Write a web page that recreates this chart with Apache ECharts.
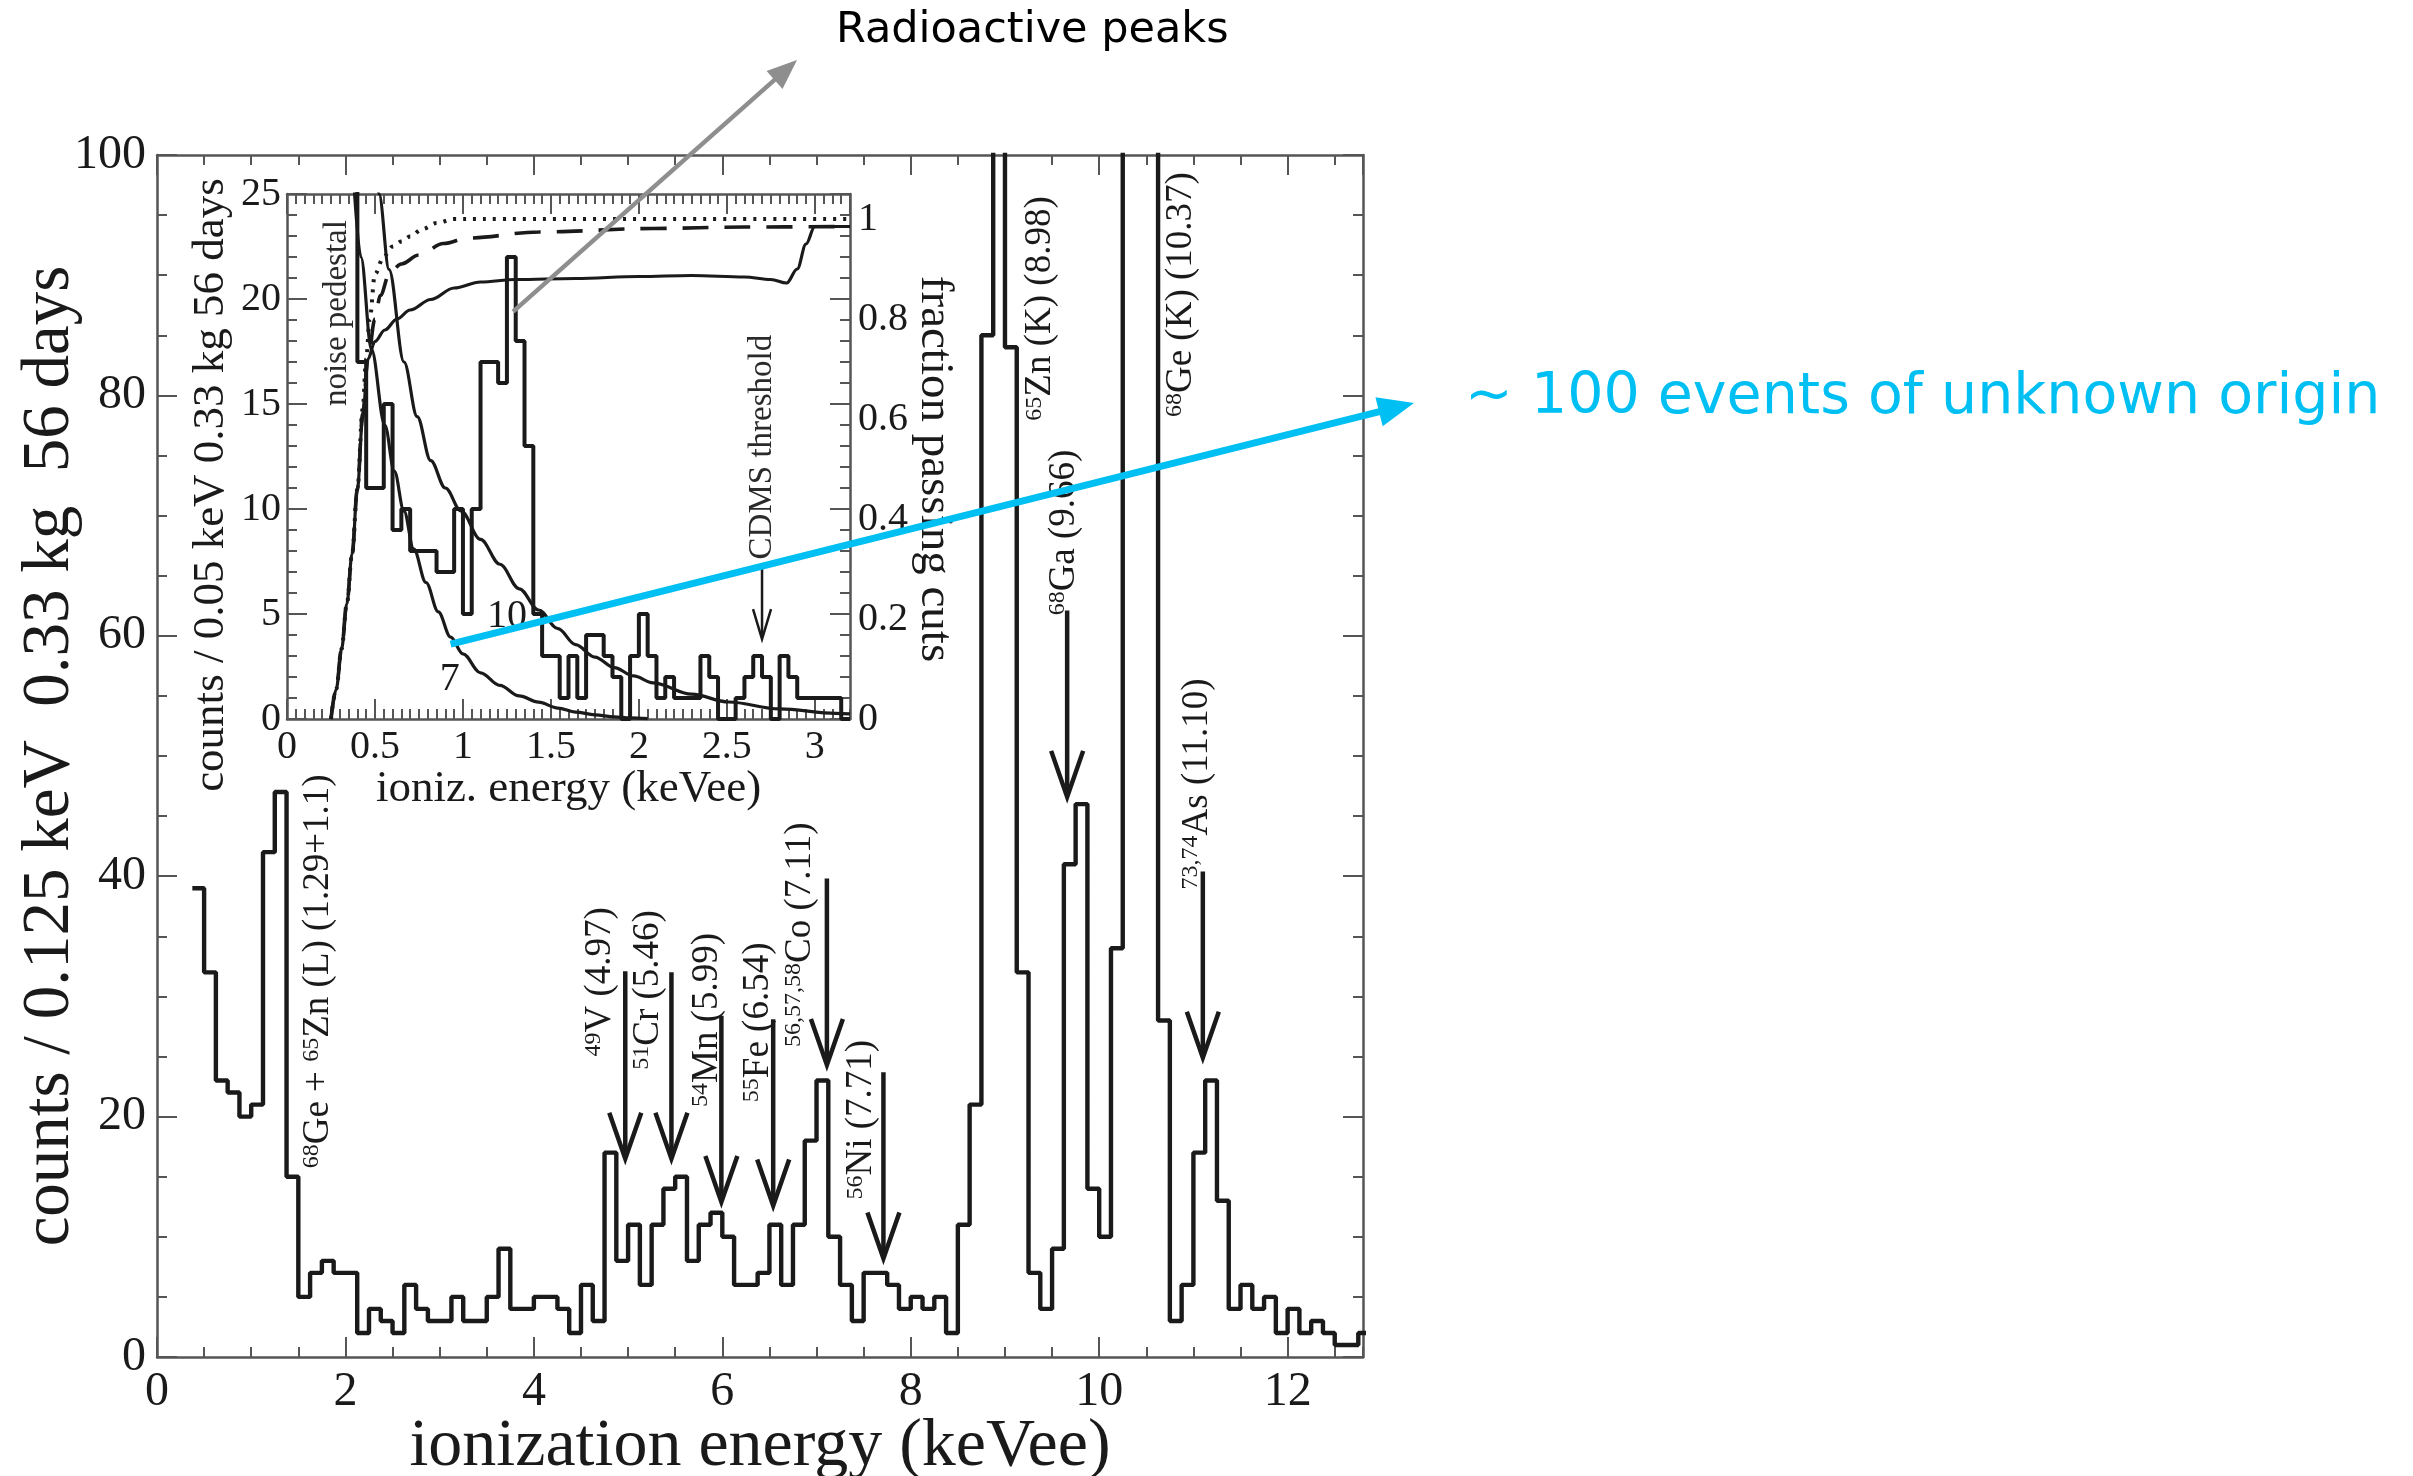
<!DOCTYPE html>
<html>
<head>
<meta charset="utf-8">
<script src="https://cdn.jsdelivr.net/npm/echarts@6/dist/echarts.min.js"></script>
<style>
  html, body { margin: 0; padding: 0; background: #ffffff; }
  #chart { width: 2413px; height: 1476px; }
</style>
</head>
<body>
<div id="chart"></div>
<script>
// ---------- Main spectrum: counts per 0.125 keVee bin ----------
const mainBinStart = 0.375;
const mainBinWidth = 0.125;
const mainCounts = [
  39, 32, 23, 22, 20, 21, 42, 47, 15, 5,
  7, 8, 7, 7, 2, 4, 3, 2, 6, 4,
  3, 3, 5, 3, 3, 5, 9, 4, 4, 5,
  5, 4, 2, 6, 3, 17, 8, 11, 6, 11,
  14, 15, 8, 11, 12, 10, 6, 6, 7, 11,
  6, 11, 18, 23, 10, 6, 3, 7, 7, 6,
  4, 5, 4, 5, 2, 11, 21, 85, 130, 84,
  32, 7, 4, 9, 41, 46, 14, 10, 34, 150,
  300, 170, 28, 3, 6, 17, 23, 13, 4, 6,
  4, 5, 2, 4, 2, 3, 2, 1, 1, 2
];

// Main x / y tick settings
const mainXMax = 12.8;
const mainXStep = 2;
const mainXMinorStep = 0.5;
const mainYMax = 100;
const mainYStep = 20;

// Line identifications (rotated labels): energy position, baseline count, text
const peakLabelE    = [1.71, 4.70, 5.21, 5.84, 6.38, 6.83, 7.48, 9.63, 11.04, 9.38, 10.87];
const peakLabelBase = [15.7, 25.0, 23.9, 20.8, 21.2, 25.8, 13.1, 61.7, 38.9, 77.9, 78.2];
const peakLabelText = [
  '{s|68}{n|Ge + }{s|65}{n|Zn (L) (1.29+1.1)}',
  '{s|49}{n|V (4.97)}',
  '{s|51}{n|Cr (5.46)}',
  '{s|54}{n|Mn (5.99)}',
  '{s|55}{n|Fe (6.54)}',
  '{s|56,57,58}{n|Co (7.11)}',
  '{s|56}{n|Ni (7.71)}',
  '{s|68}{n|Ga (9.66)}',
  '{s|73,74}{n|As (11.10)}',
  '{s|65}{n|Zn (K) (8.98)}',
  '{s|68}{n|Ge (K) (10.37)}'
];

// Arrows marking line energies: energy, arrow tail count, arrow tip count
const arrowE    = [4.97, 5.46, 5.99, 6.54, 7.11, 7.71, 9.66, 11.10];
const arrowFrom = [32.1, 32.0, 28.4, 28.1, 39.8, 23.7, 62.1, 40.4];
const arrowTo   = [16.5, 16.5, 12.9, 12.6, 24.3, 8.2, 46.6, 24.9];

// ---------- Inset: low-energy spectrum, counts per 0.05 keVee bin ----------
const insetBinStart = 0.35;
const insetBinWidth = 0.05;
const insetCounts = [
  40, 17, 11, 11, 15, 9, 10, 8, 8, 8,
  7, 7, 10, 5, 10, 17, 17, 16, 22, 18,
  13, 5, 3, 3, 1, 3, 1, 4, 4, 3,
  2, 0, 3, 5, 3, 1, 2, 1, 1, 1,
  3, 2, 0, 0, 1, 2, 3, 2, 0, 3,
  2, 1, 1, 1, 1, 1, 0
];
const insetXMax = 3.2;
const insetYMax = 25;
const fracMax = 1.05;

// Fraction of events passing cuts (right axis)
const effSolidE = [0.25, 0.28, 0.31, 0.34, 0.37, 0.40, 0.43, 0.46, 0.50, 0.556, 0.625, 0.70, 0.817, 0.95, 1.1, 1.3, 1.64, 2.0, 2.3, 2.6, 2.75, 2.84, 2.9, 2.95, 3.0, 3.2];
const effSolidF = [0, 0.06, 0.14, 0.23, 0.33, 0.46, 0.60, 0.72, 0.755, 0.778, 0.80, 0.818, 0.839, 0.862, 0.874, 0.879, 0.881, 0.885, 0.887, 0.884, 0.879, 0.872, 0.90, 0.95, 0.985, 0.985];
const effDashE  = [0.25, 0.28, 0.31, 0.34, 0.37, 0.40, 0.43, 0.46, 0.50, 0.53, 0.585, 0.65, 0.75, 0.89, 1.03, 1.43, 2.08, 2.6, 3.2];
const effDashF  = [0, 0.06, 0.14, 0.23, 0.33, 0.46, 0.61, 0.72, 0.80, 0.847, 0.894, 0.91, 0.928, 0.951, 0.962, 0.974, 0.981, 0.984, 0.985];
const effDotE   = [0.25, 0.28, 0.31, 0.34, 0.37, 0.40, 0.43, 0.45, 0.47, 0.50, 0.55, 0.60, 0.65, 0.70, 0.77, 0.85, 0.95, 1.1, 3.2];
const effDotF   = [0, 0.06, 0.14, 0.23, 0.33, 0.46, 0.62, 0.72, 0.80, 0.89, 0.925, 0.945, 0.955, 0.965, 0.98, 0.992, 1.0, 1.0, 1.0];

// Expected spectra for the two WIMP masses (left axis, counts)
const wimp10E = [0.47, 0.523, 0.58, 0.665, 0.74, 0.817, 0.9, 0.99, 1.1, 1.21, 1.32, 1.43, 1.54, 1.64, 1.75, 1.86, 1.97, 2.08, 2.3, 2.51, 2.8, 3.12, 3.2];
const wimp10C = [29, 25, 21.4, 17.0, 14.4, 12.3, 11.0, 9.9, 8.55, 7.37, 6.2, 5.19, 4.3, 3.54, 2.95, 2.45, 2.05, 1.72, 1.18, 0.81, 0.48, 0.27, 0.24];
const wimp7E  = [0.37, 0.42, 0.48, 0.556, 0.61, 0.665, 0.72, 0.79, 0.86, 0.93, 1.0, 1.1, 1.21, 1.32, 1.43, 1.54, 1.64, 1.75, 1.86, 1.95, 2.05];
const wimp7C  = [27, 22, 17.6, 14.0, 11.8, 9.9, 8.1, 6.5, 5.1, 3.9, 3.1, 2.2, 1.6, 1.1, 0.8, 0.52, 0.33, 0.2, 0.1, 0.05, 0.02];

// Inset notes: curve labels and rotated notes
const curveLabelE = [1.25, 0.925];
const curveLabelC = [4.9, 1.9];
const curveLabelText = ['10', '7'];
const noteE = [0.284, 2.70];
const noteBase = [14.9, 7.6];
const noteText = ['noise pedestal', 'CDMS threshold'];
const thresholdE = 2.70;
const thresholdFrom = 7.2;
const thresholdTo = 3.8;

// Axis titles
const mainXTitle = 'ionization energy (keVee)';
const mainYTitle = 'counts / 0.125 keV  0.33 kg  56 days';
const insetXTitle = 'ioniz. energy (keVee)';
const insetYTitle = 'counts / 0.05 keV 0.33 kg 56 days';
const insetFracTitle = 'fraction passing cuts';

// Call-out annotations
const peakPointer = [1.285, 19.4];     // inset coordinates of the 1.3 keV peak
const unknownPointer = [0.93, 3.57];   // inset coordinates on the lower curve
const calloutPeaks = 'Radioactive peaks';
const calloutUnknown = '~ 100 events of unknown origin';

// ---------- Styling ----------
const serif = "'Liberation Serif', 'DejaVu Serif', serif";
const ink = '#1a1a1a';
const frame = '#555555';
const cyan = '#00bff2';

function histPoints(start, width, counts) {
  const pts = counts.map((c, i) => [+(start + i * width).toFixed(4), c]);
  pts.push([+(start + counts.length * width).toFixed(4), counts[counts.length - 1]]);
  return pts;
}
function pairs(xs, ys) { return xs.map((x, i) => [x, ys[i]]); }

function xAxisDef(grid, pos, max, interval, tickLen, extra) {
  return Object.assign({
    gridIndex: grid, type: 'value', position: pos, min: 0, max: max, interval: interval,
    axisLine: { show: false, onZero: false },
    axisTick: { show: true, inside: true, length: tickLen, lineStyle: { color: frame, width: 2 } },
    axisLabel: { show: false },
    splitLine: { show: false },
    minorTick: { show: false },
    minorSplitLine: { show: false }
  }, extra || {});
}
const frameLine = { show: true, onZero: false, lineStyle: { color: frame, width: 2.5 } };

const richMain = {
  s: { fontFamily: serif, fontSize: 24, fill: ink, verticalAlign: 'top' },
  n: { fontFamily: serif, fontSize: 37, fill: ink, verticalAlign: 'bottom' }
};

const chart = echarts.init(document.getElementById('chart'), null, { renderer: 'canvas' });

const option = {
  animation: false,
  backgroundColor: '#ffffff',
  grid: [
    { left: 157, top: 155, width: 1206, height: 1202, outerBoundsMode: 'none', containLabel: false },
    { left: 287, top: 194, width: 563, height: 525, outerBoundsMode: 'none', containLabel: false }
  ],
  xAxis: [
    xAxisDef(0, 'bottom', mainXMax, mainXStep, 20, {
      axisLine: frameLine,
      axisLabel: { show: true, color: ink, fontFamily: serif, fontSize: 48, margin: 11, showMaxLabel: false },
      name: mainXTitle, nameLocation: 'middle', nameGap: 56, nameMoveOverlap: false,
      nameTextStyle: { color: ink, fontFamily: serif, fontSize: 68 }
    }),
    xAxisDef(0, 'bottom', mainXMax, mainXMinorStep, 10),
    xAxisDef(0, 'top', mainXMax, mainXStep, 20, { axisLine: frameLine }),
    xAxisDef(0, 'top', mainXMax, mainXMinorStep, 10),
    xAxisDef(1, 'bottom', insetXMax, 0.5, 20, {
      axisLine: frameLine,
      axisLabel: { show: true, color: ink, fontFamily: serif, fontSize: 40, margin: 8, showMaxLabel: false },
      name: insetXTitle, nameLocation: 'middle', nameGap: 48, nameMoveOverlap: false,
      nameTextStyle: { color: ink, fontFamily: serif, fontSize: 45 }
    }),
    xAxisDef(1, 'bottom', insetXMax, insetBinWidth, 10),
    xAxisDef(1, 'top', insetXMax, 0.5, 20, { axisLine: frameLine }),
    xAxisDef(1, 'top', insetXMax, insetBinWidth, 10)
  ],
  yAxis: [
    {
      gridIndex: 0, type: 'value', position: 'left', min: 0, max: mainYMax, interval: mainYStep,
      axisLine: frameLine,
      axisTick: { show: true, inside: true, length: 20, lineStyle: { color: frame, width: 2 } },
      minorTick: { show: true, splitNumber: 4, length: 10, lineStyle: { color: frame, width: 2 } },
      splitLine: { show: false },
      axisLabel: { show: true, color: ink, fontFamily: serif, fontSize: 48, margin: 11 },
      name: mainYTitle, nameLocation: 'middle', nameGap: 73, nameRotate: 90,
      nameMoveOverlap: false,
      nameTextStyle: { color: ink, fontFamily: serif, fontSize: 67 }
    },
    {
      gridIndex: 0, type: 'value', position: 'right', min: 0, max: mainYMax, interval: mainYStep,
      axisLine: frameLine,
      axisTick: { show: true, inside: true, length: 20, lineStyle: { color: frame, width: 2 } },
      minorTick: { show: true, splitNumber: 4, length: 10, lineStyle: { color: frame, width: 2 } },
      splitLine: { show: false },
      axisLabel: { show: false }
    },
    {
      gridIndex: 1, type: 'value', position: 'left', min: 0, max: insetYMax, interval: 5,
      axisLine: frameLine,
      axisTick: { show: true, inside: true, length: 20, lineStyle: { color: frame, width: 2 } },
      minorTick: { show: true, splitNumber: 5, length: 10, lineStyle: { color: frame, width: 2 } },
      splitLine: { show: false },
      axisLabel: { show: true, color: ink, fontFamily: serif, fontSize: 40, margin: 6 }
    },
    {
      gridIndex: 1, type: 'value', position: 'right', min: 0, max: insetYMax, interval: 5,
      axisLine: frameLine,
      axisTick: { show: true, inside: true, length: 20, lineStyle: { color: frame, width: 2 } },
      minorTick: { show: true, splitNumber: 5, length: 10, lineStyle: { color: frame, width: 2 } },
      splitLine: { show: false },
      axisLabel: { show: false }
    },
    {
      gridIndex: 1, type: 'value', position: 'right', min: 0, max: fracMax, interval: 0.2,
      axisLine: { show: false, onZero: false },
      axisTick: { show: false },
      splitLine: { show: false },
      axisLabel: { show: true, color: ink, fontFamily: serif, fontSize: 40, margin: 8, showMaxLabel: false }
    }
  ],
  series: [
    {
      name: 'main spectrum', type: 'line', xAxisIndex: 0, yAxisIndex: 0, step: 'end',
      data: histPoints(mainBinStart, mainBinWidth, mainCounts),
      symbol: 'none', clip: true, lineStyle: { color: ink, width: 4.4 }, z: 3
    },
    {
      name: 'inset spectrum', type: 'line', xAxisIndex: 4, yAxisIndex: 2, step: 'end',
      data: histPoints(insetBinStart, insetBinWidth, insetCounts),
      symbol: 'none', clip: true, lineStyle: { color: ink, width: 4 }, z: 3
    },
    {
      name: 'efficiency', type: 'line', xAxisIndex: 4, yAxisIndex: 4, data: pairs(effSolidE, effSolidF),
      smooth: 0.35, smoothMonotone: 'x', symbol: 'none', clip: true, lineStyle: { color: ink, width: 3.2 }
    },
    {
      name: 'efficiency dashed', type: 'line', xAxisIndex: 4, yAxisIndex: 4, data: pairs(effDashE, effDashF),
      smooth: 0.35, smoothMonotone: 'x', symbol: 'none', clip: true,
      lineStyle: { color: ink, width: 3.6, type: [26, 16] }
    },
    {
      name: 'efficiency dotted', type: 'line', xAxisIndex: 4, yAxisIndex: 4, data: pairs(effDotE, effDotF),
      smooth: 0.35, smoothMonotone: 'x', symbol: 'none', clip: true,
      lineStyle: { color: ink, width: 4, type: [3, 7] }
    },
    {
      name: '10', type: 'line', xAxisIndex: 4, yAxisIndex: 2, data: pairs(wimp10E, wimp10C),
      smooth: 0.35, smoothMonotone: 'x', symbol: 'none', clip: true, lineStyle: { color: ink, width: 3.2 }
    },
    {
      name: '7', type: 'line', xAxisIndex: 4, yAxisIndex: 2, data: pairs(wimp7E, wimp7C),
      smooth: 0.35, smoothMonotone: 'x', symbol: 'none', clip: true, lineStyle: { color: ink, width: 3.2 }
    },
    {
      name: 'line labels', type: 'custom', coordinateSystem: 'cartesian2d', xAxisIndex: 0, yAxisIndex: 0,
      silent: true, z: 5,
      data: peakLabelE.map((e, i) => [e, peakLabelBase[i], i]),
      renderItem: function (params, api) {
        const p = api.coord([api.value(0), api.value(1)]);
        return {
          type: 'text', x: p[0], y: p[1], rotation: Math.PI / 2,
          style: {
            text: peakLabelText[api.value(2)], fill: ink, fontFamily: serif, fontSize: 37,
            align: 'left', verticalAlign: 'middle', rich: richMain
          }
        };
      }
    },
    {
      name: 'line arrows', type: 'custom', coordinateSystem: 'cartesian2d', xAxisIndex: 0, yAxisIndex: 0,
      silent: true, z: 5,
      data: arrowE.map((e, i) => [e, arrowFrom[i], arrowTo[i]]),
      renderItem: function (params, api) {
        const a = api.coord([api.value(0), api.value(1)]);
        const b = api.coord([api.value(0), api.value(2)]);
        return {
          type: 'group', children: [
            { type: 'line', shape: { x1: a[0], y1: a[1], x2: b[0], y2: b[1] - 4 },
              style: { stroke: ink, lineWidth: 4.5 } },
            { type: 'polyline', shape: { points: [[b[0] - 16, b[1] - 46], [b[0], b[1]], [b[0] + 16, b[1] - 46]] },
              style: { stroke: ink, lineWidth: 4.5, fill: 'none', lineJoin: 'miter' } }
          ]
        };
      }
    },
    {
      name: 'inset notes', type: 'custom', coordinateSystem: 'cartesian2d', xAxisIndex: 4, yAxisIndex: 2,
      silent: true, z: 5,
      data: noteE.map((e, i) => [e, noteBase[i], i]),
      renderItem: function (params, api) {
        const p = api.coord([api.value(0), api.value(1)]);
        return {
          type: 'text', x: p[0], y: p[1], rotation: Math.PI / 2,
          style: { text: noteText[api.value(2)], fill: '#2a2a2a', fontFamily: serif, fontSize: 33,
                   align: 'left', verticalAlign: 'middle' }
        };
      }
    },
    {
      name: 'curve labels', type: 'custom', coordinateSystem: 'cartesian2d', xAxisIndex: 4, yAxisIndex: 2,
      silent: true, z: 5,
      data: curveLabelE.map((e, i) => [e, curveLabelC[i], i]),
      renderItem: function (params, api) {
        const p = api.coord([api.value(0), api.value(1)]);
        return {
          type: 'text', x: p[0], y: p[1],
          style: { text: curveLabelText[api.value(2)], fill: ink, fontFamily: serif, fontSize: 40,
                   align: 'center', verticalAlign: 'middle' }
        };
      }
    },
    {
      name: 'threshold arrow', type: 'custom', coordinateSystem: 'cartesian2d', xAxisIndex: 4, yAxisIndex: 2,
      silent: true, z: 5,
      data: [[thresholdE, thresholdFrom, thresholdTo]],
      renderItem: function (params, api) {
        const a = api.coord([api.value(0), api.value(1)]);
        const b = api.coord([api.value(0), api.value(2)]);
        return {
          type: 'group', children: [
            { type: 'line', shape: { x1: a[0], y1: a[1], x2: b[0], y2: b[1] - 2 },
              style: { stroke: ink, lineWidth: 2.5 } },
            { type: 'polyline', shape: { points: [[b[0] - 9, b[1] - 30], [b[0], b[1]], [b[0] + 9, b[1] - 30]] },
              style: { stroke: ink, lineWidth: 2.5, fill: 'none' } }
          ]
        };
      }
    }
  ]
};

chart.setOption(option);

// ---------- Call-out arrows, texts and inset axis titles ----------
function headPoints(tip, from, len, hw) {
  const dx = tip[0] - from[0], dy = tip[1] - from[1];
  const L = Math.hypot(dx, dy);
  const ux = dx / L, uy = dy / L;
  const bx = tip[0] - ux * len, by = tip[1] - uy * len;
  return {
    poly: [[tip[0], tip[1]], [bx - uy * hw, by + ux * hw], [bx + uy * hw, by - ux * hw]],
    base: [tip[0] - ux * len * 0.7, tip[1] - uy * len * 0.7]
  };
}

const grayStart = chart.convertToPixel({ seriesIndex: 1 }, peakPointer);
const grayTip = [797, 60];
const grayHead = headPoints(grayTip, grayStart, 30, 12);
const cyanStart = chart.convertToPixel({ seriesIndex: 1 }, unknownPointer);
const cyanTip = [1414, 403];
const cyanHead = headPoints(cyanTip, cyanStart, 36, 15);

chart.setOption({
  graphic: [
    { type: 'text', z: 10, silent: true, x: 211, y: 485, rotation: Math.PI / 2,
      style: { text: insetYTitle, fill: ink, fontFamily: serif, fontSize: 45,
               align: 'center', verticalAlign: 'middle' } },
    { type: 'text', z: 10, silent: true, x: 934, y: 469, rotation: -Math.PI / 2,
      style: { text: insetFracTitle, fill: ink, fontFamily: serif, fontSize: 47,
               align: 'center', verticalAlign: 'middle' } },
    { type: 'line', z: 50, silent: true,
      shape: { x1: grayStart[0], y1: grayStart[1], x2: grayHead.base[0], y2: grayHead.base[1] },
      style: { stroke: '#8e8e8e', lineWidth: 4.5 } },
    { type: 'polygon', z: 50, silent: true, shape: { points: grayHead.poly }, style: { fill: '#8e8e8e' } },
    { type: 'line', z: 51, silent: true,
      shape: { x1: cyanStart[0], y1: cyanStart[1], x2: cyanHead.base[0], y2: cyanHead.base[1] },
      style: { stroke: cyan, lineWidth: 7 } },
    { type: 'polygon', z: 51, silent: true, shape: { points: cyanHead.poly }, style: { fill: cyan } },
    { type: 'text', z: 52, silent: true, x: 836, y: 31,
      style: { text: calloutPeaks, fill: '#000000', font: "43px 'DejaVu Sans', sans-serif",
               align: 'left', verticalAlign: 'middle' } },
    { type: 'text', z: 52, silent: true, x: 1465, y: 398,
      style: { text: calloutUnknown, fill: cyan, font: "57px 'DejaVu Sans', sans-serif",
               align: 'left', verticalAlign: 'middle' } }
  ]
});
</script>
</body>
</html>
